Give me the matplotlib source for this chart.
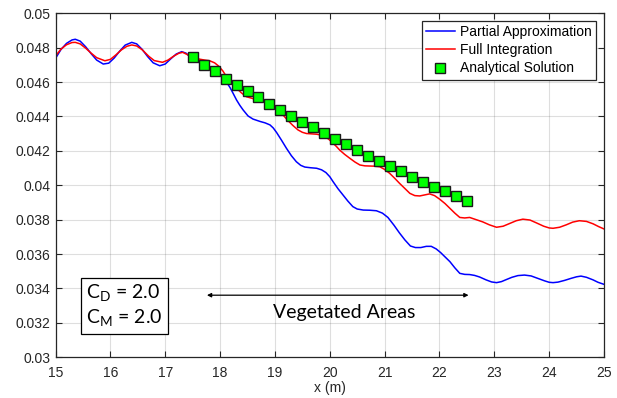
import matplotlib
matplotlib.use("Agg")
import matplotlib.pyplot as plt

# values
x_partial = [15.00, 15.10, 15.20, 15.30, 15.36, 15.45, 15.55, 15.65, 15.75, 15.87, 15.97,
             16.07, 16.17, 16.27, 16.39, 16.48, 16.58, 16.68, 16.78, 16.90, 17.00, 17.10,
             17.20, 17.30, 17.38, 17.45, 17.57, 17.69, 17.80, 17.905, 18.00, 18.06, 18.12,
             18.18, 18.24, 18.30, 18.36, 18.42, 18.51, 18.60, 18.73, 18.82, 18.91, 18.97,
             19.03, 19.12, 19.21, 19.30, 19.39, 19.47, 19.545, 19.65, 19.76, 19.85, 19.93,
             20.00, 20.06, 20.15, 20.24, 20.33, 20.42, 20.50, 20.61, 20.73, 20.85, 20.96,
             21.06, 21.17, 21.27, 21.37, 21.47, 21.56, 21.66, 21.76, 21.85, 21.94, 22.02,
             22.10, 22.19, 22.28, 22.37, 22.46, 22.55, 22.64, 22.73, 22.85, 22.95, 23.04,
             23.13, 23.22, 23.32, 23.43, 23.55, 23.67, 23.79, 23.92, 24.00, 24.07, 24.16,
             24.28, 24.40, 24.50, 24.58, 24.68, 24.80, 24.89, 25.00]
y_partial = [0.04738, 0.04790, 0.04825, 0.04845, 0.04849, 0.04838, 0.04805, 0.04765, 0.04728,
             0.04705, 0.04710, 0.04740, 0.04780, 0.04815, 0.04831, 0.04822, 0.04790, 0.04748,
             0.04712, 0.04695, 0.04705, 0.04735, 0.04763, 0.04777, 0.04768, 0.04748, 0.04723,
             0.04699, 0.04678, 0.04657, 0.04638, 0.04622, 0.04598, 0.04569, 0.04533, 0.04496,
             0.04465, 0.04438, 0.04403, 0.04385, 0.04371, 0.04363, 0.04351, 0.04333, 0.04307,
             0.04262, 0.04215, 0.04172, 0.04137, 0.04116, 0.04106, 0.04102, 0.04099, 0.04090,
             0.04074, 0.04050, 0.04021, 0.03980, 0.03944, 0.03908, 0.03876, 0.03862, 0.03856,
             0.03855, 0.03852, 0.03838, 0.03813, 0.03768, 0.03723, 0.03682, 0.03647, 0.03638,
             0.03638, 0.03645, 0.03645, 0.03630, 0.03609, 0.03584, 0.03556, 0.03520, 0.03488,
             0.03482, 0.03481, 0.03476, 0.03467, 0.03450, 0.03438, 0.03434, 0.03440, 0.03452,
             0.03465, 0.03475, 0.03478, 0.03473, 0.03459, 0.03444, 0.03436, 0.03434, 0.03437,
             0.03447, 0.03459, 0.03468, 0.03472, 0.03465, 0.03450, 0.03436, 0.03424]

x_full = [15.00, 15.10, 15.20, 15.30, 15.36, 15.45, 15.55, 15.65, 15.75, 15.90, 16.00, 16.10,
          16.20, 16.30, 16.39, 16.48, 16.58, 16.70, 16.80, 16.95, 17.05, 17.15, 17.25, 17.32,
          17.45, 17.54, 17.63, 17.72, 17.81, 17.90, 17.97, 18.05, 18.12, 18.21, 18.30, 18.39,
          18.48, 18.60, 18.73, 18.82, 18.91, 18.99, 19.07, 19.15, 19.235, 19.33, 19.42, 19.50,
          19.575, 19.67, 19.76, 19.84, 19.91, 19.98, 20.055, 20.12, 20.18, 20.27, 20.365,
          20.46, 20.55, 20.64, 20.73, 20.82, 20.91, 21.00, 21.09, 21.18, 21.27, 21.37, 21.46,
          21.55, 21.64, 21.73, 21.82, 21.91, 22.00, 22.10, 22.19, 22.28, 22.37, 22.46, 22.55,
          22.67, 22.79, 22.91, 23.04, 23.16, 23.28, 23.40, 23.52, 23.65, 23.77, 23.90, 24.00,
          24.07, 24.19, 24.31, 24.43, 24.55, 24.68, 24.80, 24.90, 25.00]
y_full = [0.04752, 0.04792, 0.04817, 0.04830, 0.04831, 0.04822, 0.04797, 0.04768, 0.04742,
          0.04724, 0.04732, 0.04758, 0.04787, 0.04808, 0.04816, 0.04810, 0.04788, 0.04750,
          0.04725, 0.04715, 0.04728, 0.04750, 0.04768, 0.04773, 0.04752, 0.04740, 0.04733,
          0.04728, 0.04724, 0.04712, 0.04694, 0.04665, 0.04630, 0.04594, 0.04564, 0.04537,
          0.04515, 0.04504, 0.04499, 0.04494, 0.04486, 0.04465, 0.04438, 0.04408, 0.04377,
          0.04347, 0.04322, 0.04308, 0.04301, 0.04299, 0.04297, 0.04292, 0.04284, 0.04268,
          0.04246, 0.04226, 0.04205, 0.04180, 0.04157, 0.04135, 0.04118, 0.04113, 0.04112,
          0.04111, 0.04108, 0.04092, 0.04070, 0.04042, 0.04012, 0.03981, 0.03953, 0.03940,
          0.03938, 0.03944, 0.03950, 0.03940, 0.03920, 0.03894, 0.03866, 0.03838, 0.03813,
          0.03810, 0.03813, 0.03800, 0.03787, 0.03770, 0.03756, 0.03762, 0.03778, 0.03794,
          0.03803, 0.03798, 0.03781, 0.03762, 0.03752, 0.03750, 0.03756, 0.03770, 0.03786,
          0.03794, 0.03790, 0.03776, 0.03760, 0.03746]

x_exact = [17.5, 17.7, 17.9, 18.1, 18.3, 18.5, 18.7, 18.9, 19.1, 19.3, 19.5, 19.7, 19.9,
           20.1, 20.3, 20.5, 20.7, 20.9, 21.1, 21.3, 21.5, 21.7, 21.9, 22.1, 22.3, 22.5]
y_exact = [0.04744, 0.04699, 0.04663, 0.04620, 0.04583, 0.04550, 0.04512, 0.04474, 0.04438,
           0.04405, 0.04370, 0.04336, 0.04302, 0.04271, 0.04238, 0.04203, 0.04172, 0.04141,
           0.04112, 0.04081, 0.04048, 0.04019, 0.03992, 0.03965, 0.03938, 0.03909]

xticks = list(range(15, 26))
yticks = [0.03, 0.032, 0.034, 0.036, 0.038, 0.04, 0.042, 0.044, 0.046, 0.048, 0.05]
ytick_labels = ["0.03", "0.032", "0.034", "0.036", "0.038", "0.04", "0.042", "0.044",
                "0.046", "0.048", "0.05"]

plt.rcParams['font.family'] = ['Liberation Sans', 'DejaVu Sans']
axcol = "#262626"

fig = plt.figure(figsize=(6.17, 3.98), dpi=100)
ax = fig.add_axes([0.090, 0.1023, 0.889, 0.8643])

ax.plot(x_partial, y_partial, color=(0, 0, 1), lw=1.1, label="Partial Approximation")
ax.plot(x_full, y_full, color=(1, 0, 0), lw=1.1, label="Full Integration")
ax.plot(x_exact, y_exact, ls="none", marker="s", ms=6.8, mfc=(0, 1, 0), mec="#1a1a1a",
        mew=1.0, label="Analytical Solution")

ax.set_xlim(15, 25)
ax.set_ylim(0.03, 0.05)
ax.set_xticks(xticks)
ax.set_yticks(yticks)
ax.set_yticklabels(ytick_labels)
ax.tick_params(direction="in", top=True, right=True, length=4, width=0.8,
               labelsize=10, colors=axcol, labelcolor=axcol)
ax.tick_params(axis="x", pad=6)
for s in ax.spines.values():
    s.set_color(axcol)
    s.set_linewidth(0.9)
ax.grid(True, color="#262626", alpha=0.15, lw=0.8)
ax.set_axisbelow(True)
ax.set_xlabel("x (m)", fontsize=10, color=axcol, labelpad=1)

leg = ax.legend(loc="upper right", fontsize=10, frameon=True, fancybox=False,
                borderpad=0.3, labelspacing=0.3, handlelength=2.1, handletextpad=0.4,
                borderaxespad=0.55)
leg.get_frame().set_edgecolor(axcol)
leg.get_frame().set_linewidth(0.9)
leg.get_frame().set_alpha(1)

# vegetation zone annotation
ax.annotate("", xy=(17.76, 0.03361), xytext=(22.53, 0.03361),
            arrowprops=dict(arrowstyle="<|-|>", color="black", lw=0.9,
                            mutation_scale=6, shrinkA=0, shrinkB=0))
ax.text(20.26, 0.0326, "Vegetated Areas", ha="center", va="center",
        fontsize=14, family="Lato")

ax.text(15.56, 0.0330, "C$_\\mathregular{D}$ = 2.0\nC$_\\mathregular{M}$ = 2.0",
        ha="left", va="center", fontsize=14, family="Lato", linespacing=1.25,
        bbox=dict(boxstyle="square,pad=0.25", fc="white", ec="black", lw=0.9))

fig.savefig("out.png", dpi=100)
